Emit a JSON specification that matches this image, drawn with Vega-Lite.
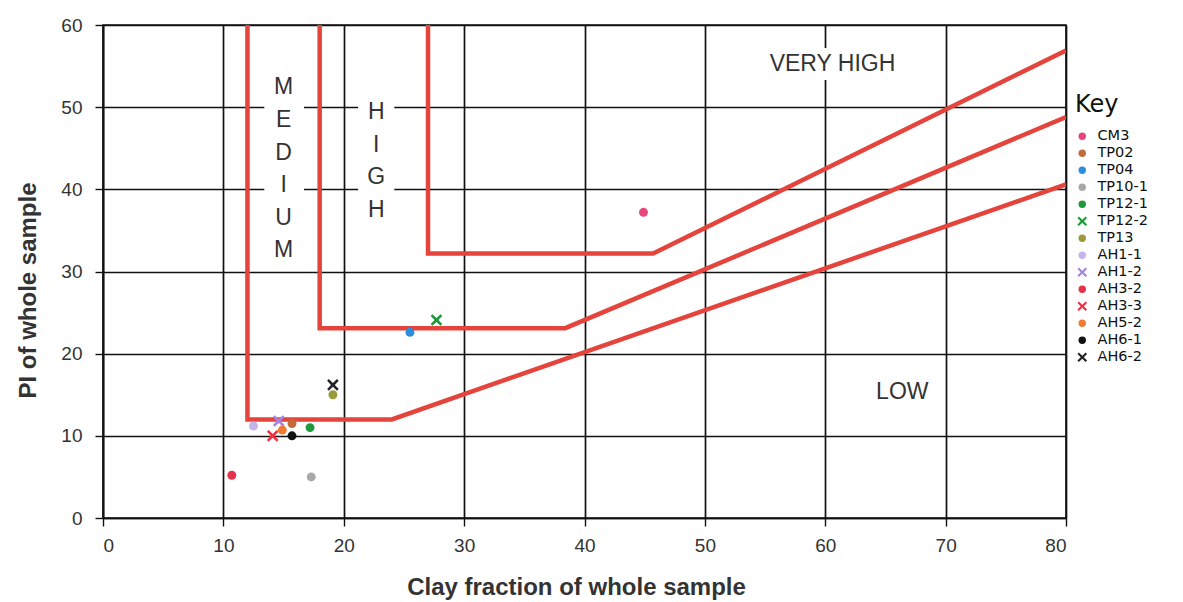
{
  "$schema": "https://vega.github.io/schema/vega-lite/v6.json",
  "autosize": {"type": "none"},
  "padding": {"left": 103, "top": 25, "right": 117, "bottom": 84},
  "width": 963,
  "height": 493,
  "background": "white",
  "config": {
    "view": {"stroke": "#111", "strokeWidth": 1.6},
    "font": "Liberation Sans",
    "axis": {
      "grid": true,
      "gridColor": "#111",
      "gridWidth": 1.7,
      "gridOpacity": 1,
      "domainColor": "#111",
      "domainWidth": 1.7,
      "tickColor": "#111",
      "tickSize": 8,
      "tickWidth": 1.4,
      "labelFont": "Liberation Sans",
      "labelFontSize": 19,
      "labelColor": "#333",
      "titleFont": "Liberation Sans",
      "titleFontSize": 24,
      "titleFontWeight": "bold",
      "titleColor": "#333"
    }
  },
  "layer": [
    {
      "data": {"values": [
        {"clay": 13.4, "clay2": 16.7, "pi": 54.5, "pi2": 31.0},
        {"clay": 21.2, "clay2": 24.2, "pi": 51.5, "pi2": 35.3},
        {"clay": 54.2, "clay2": 67.0, "pi": 57.2, "pi2": 53.3}
      ]},
      "mark": {"type": "rect", "color": "white", "opacity": 1},
      "encoding": {
        "x": {"field": "clay", "type": "quantitative", "scale": {"domain": [0, 80], "nice": false},
              "axis": {"values": [0, 10, 20, 30, 40, 50, 60, 70, 80], "title": "Clay fraction of whole sample", "labelPadding": 10, "titlePadding": 20, "titleX": 473}},
        "x2": {"field": "clay2"},
        "y": {"field": "pi", "type": "quantitative", "scale": {"domain": [0, 60], "nice": false},
              "axis": {"values": [0, 10, 20, 30, 40, 50, 60], "title": "PI of whole sample", "labelPadding": 13, "titlePadding": 20, "titleY": 265}},
        "y2": {"field": "pi2"}
      }
    },
    {
      "data": {"values": [
        {"boundary": "low", "i": 1, "clay": 12, "pi": 60},
        {"boundary": "low", "i": 2, "clay": 12, "pi": 12},
        {"boundary": "low", "i": 3, "clay": 24, "pi": 12},
        {"boundary": "low", "i": 4, "clay": 80, "pi": 40.6},
        {"boundary": "mid", "i": 1, "clay": 18, "pi": 60},
        {"boundary": "mid", "i": 2, "clay": 18, "pi": 23.1},
        {"boundary": "mid", "i": 3, "clay": 38.4, "pi": 23.1},
        {"boundary": "mid", "i": 4, "clay": 80, "pi": 48.8},
        {"boundary": "high", "i": 1, "clay": 27, "pi": 60},
        {"boundary": "high", "i": 2, "clay": 27, "pi": 32.2},
        {"boundary": "high", "i": 3, "clay": 45.7, "pi": 32.2},
        {"boundary": "high", "i": 4, "clay": 80, "pi": 56.9}
      ]},
      "mark": {"type": "line", "color": "#e4443c", "strokeWidth": 4.5, "clip": true},
      "encoding": {
        "x": {"field": "clay", "type": "quantitative"},
        "y": {"field": "pi", "type": "quantitative"},
        "detail": {"field": "boundary"},
        "order": {"field": "i", "type": "quantitative"}
      }
    },
    {
      "data": {"values": [
        {"label": "M\nE\nD\nI\nU\nM", "clay": 15.0, "pi": 52.4},
        {"label": "H\nI\nG\nH", "clay": 22.7, "pi": 49.4},
        {"label": "VERY HIGH", "clay": 60.6, "pi": 55.3},
        {"label": "LOW", "clay": 66.4, "pi": 15.3}
      ]},
      "mark": {"type": "text", "fontSize": 23, "color": "#333", "lineBreak": "\n", "lineHeight": 32.6, "align": "center", "baseline": "middle"},
      "encoding": {
        "x": {"field": "clay", "type": "quantitative"},
        "y": {"field": "pi", "type": "quantitative"},
        "text": {"field": "label"}
      }
    },
    {
      "data": {"values": [
        {"sample": "CM3", "clay": 44.9, "pi": 37.2},
        {"sample": "TP02", "clay": 15.7, "pi": 11.5},
        {"sample": "TP04", "clay": 25.5, "pi": 22.6},
        {"sample": "TP10-1", "clay": 17.3, "pi": 5.0},
        {"sample": "TP12-1", "clay": 17.2, "pi": 11.0},
        {"sample": "TP12-2", "clay": 27.7, "pi": 24.1},
        {"sample": "TP13", "clay": 19.1, "pi": 15.0},
        {"sample": "AH1-1", "clay": 12.5, "pi": 11.2},
        {"sample": "AH1-2", "clay": 14.6, "pi": 11.8},
        {"sample": "AH3-2", "clay": 10.7, "pi": 5.2},
        {"sample": "AH3-3", "clay": 14.1, "pi": 10.0},
        {"sample": "AH5-2", "clay": 14.9, "pi": 10.7},
        {"sample": "AH6-1", "clay": 15.7, "pi": 10.0},
        {"sample": "AH6-2", "clay": 19.1, "pi": 16.2}
      ]},
      "mark": {"type": "point", "filled": true, "opacity": 1, "size": 80},
      "encoding": {
        "x": {"field": "clay", "type": "quantitative"},
        "y": {"field": "pi", "type": "quantitative"},
        "color": {"field": "sample", "type": "nominal",
          "scale": {
            "domain": ["CM3", "TP02", "TP04", "TP10-1", "TP12-1", "TP12-2", "TP13", "AH1-1", "AH1-2", "AH3-2", "AH3-3", "AH5-2", "AH6-1", "AH6-2"],
            "range": ["#e8457a", "#c46a3a", "#2a8ee0", "#a8a8a8", "#1e9a3a", "#1e9a3a", "#9a9a3a", "#c4b4ec", "#a484e4", "#e8304a", "#f03040", "#f07a30", "#111111", "#222222"]
          },
          "legend": {"title": "Key", "orient": "none", "legendX": 972, "legendY": 68,
            "titleFont": "DejaVu Sans", "titleFontSize": 24, "titleFontWeight": "normal", "titleColor": "#111", "titlePadding": 12,
            "labelFont": "DejaVu Sans", "labelFontSize": 14.5, "labelColor": "#111", "rowPadding": 2, "symbolSize": 55, "labelOffset": 8}
        },
        "shape": {"field": "sample", "type": "nominal",
          "scale": {
            "domain": ["CM3", "TP02", "TP04", "TP10-1", "TP12-1", "TP12-2", "TP13", "AH1-1", "AH1-2", "AH3-2", "AH3-3", "AH5-2", "AH6-1", "AH6-2"],
            "range": ["circle", "circle", "circle", "circle", "circle", "M-0.91,-1.3L0,-0.43L0.91,-1.3L1.3,-0.91L0.43,0L1.3,0.91L0.91,1.3L0,0.43L-0.91,1.3L-1.3,0.91L-0.43,0L-1.3,-0.91Z", "circle", "circle", "M-0.91,-1.3L0,-0.43L0.91,-1.3L1.3,-0.91L0.43,0L1.3,0.91L0.91,1.3L0,0.43L-0.91,1.3L-1.3,0.91L-0.43,0L-1.3,-0.91Z", "circle", "M-0.91,-1.3L0,-0.43L0.91,-1.3L1.3,-0.91L0.43,0L1.3,0.91L0.91,1.3L0,0.43L-0.91,1.3L-1.3,0.91L-0.43,0L-1.3,-0.91Z", "circle", "circle", "M-0.91,-1.3L0,-0.43L0.91,-1.3L1.3,-0.91L0.43,0L1.3,0.91L0.91,1.3L0,0.43L-0.91,1.3L-1.3,0.91L-0.43,0L-1.3,-0.91Z"]
          }
        }
      }
    }
  ]
}
